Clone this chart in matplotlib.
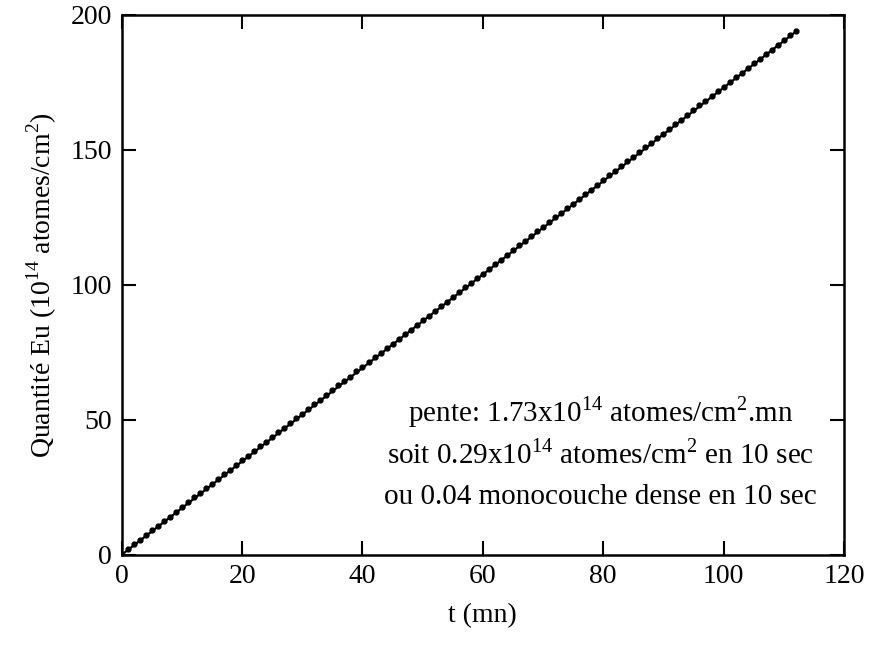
import numpy as np
import matplotlib.pyplot as plt

plt.rcParams['font.family'] = ['Liberation Serif', 'DejaVu Serif']
plt.rcParams['mathtext.fontset'] = 'custom'
plt.rcParams['mathtext.rm'] = 'Liberation Serif'

# measured Eu quantity vs time (one point per minute)
t = np.arange(0, 113)
q = [0.0, 2.0, 3.8, 5.6, 7.2, 9.1, 10.8, 12.5, 14.1, 16.0,
     17.6, 19.4, 21.2, 22.8, 24.6, 26.3, 28.1, 29.8, 31.4, 33.3,
     35.0, 36.7, 38.5, 40.1, 41.9, 43.6, 45.4, 47.1, 48.7, 50.6,
     52.2, 54.0, 55.8, 57.4, 59.2, 60.9, 62.7, 64.4, 66.0, 67.9,
     69.5, 71.3, 73.1, 74.7, 76.5, 78.2, 80.0, 81.7, 83.3, 85.2,
     86.8, 88.6, 90.4, 92.0, 93.8, 95.5, 97.3, 99.0, 100.6, 102.5,
     104.1, 105.9, 107.7, 109.3, 111.1, 112.8, 114.6, 116.3, 117.9, 119.8,
     121.4, 123.2, 125.0, 126.6, 128.4, 130.1, 131.9, 133.6, 135.2, 137.1,
     138.7, 140.5, 142.3, 143.9, 145.7, 147.4, 149.2, 150.9, 152.5, 154.4,
     156.0, 157.8, 159.6, 161.2, 163.0, 164.7, 166.5, 168.2, 169.8, 171.7,
     173.3, 175.1, 176.9, 178.5, 180.3, 182.0, 183.8, 185.5, 187.1, 189.0,
     190.6, 192.4, 194.1]

slope = 1.73  # 10^14 atomes/cm^2 per mn
fit_t = np.array([0, 112])

fig = plt.figure(figsize=(8.7, 6.45), dpi=100)
ax = fig.add_axes([0.140, 0.140, 0.830, 0.837])

ax.plot(fit_t, slope * fit_t, color='black', lw=1.6)
ax.plot(t, q, 'o', color='black', ms=3.5)

ax.set_xlim(0, 120)
ax.set_ylim(0, 200)
ax.set_xticks(np.arange(0, 121, 20))
ax.set_yticks(np.arange(0, 201, 50))
ax.tick_params(direction='in', length=10, width=1.5, top=True, right=True,
               labelsize=20, pad=7)
for s in ax.spines.values():
    s.set_linewidth(1.8)

ax.set_xlabel('t (mn)', fontsize=20, labelpad=10)
ax.set_ylabel(r'Quantité Eu (10$^{14}$ atomes/cm$^{2}$)', fontsize=20, labelpad=8)

ax.text(0.663, 0.265, r'pente: 1.73x10$^{14}$ atomes/cm$^{2}$.mn',
        transform=ax.transAxes, ha='center', va='center', fontsize=21)
ax.text(0.663, 0.185, r'soit 0.29x10$^{14}$ atomes/cm$^{2}$ en 10 sec',
        transform=ax.transAxes, ha='center', va='center', fontsize=21)
ax.text(0.663, 0.107, 'ou 0.04 monocouche dense en 10 sec',
        transform=ax.transAxes, ha='center', va='center', fontsize=21)

fig.savefig('out.png', dpi=100)
